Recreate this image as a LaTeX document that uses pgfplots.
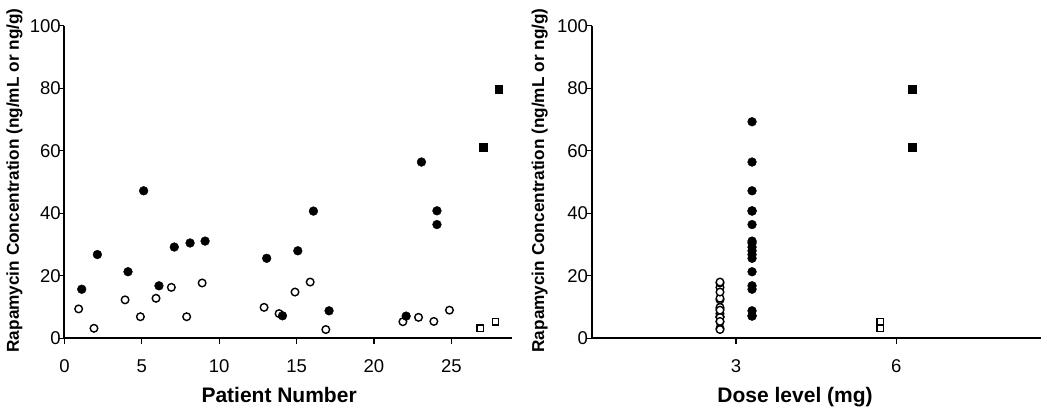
\documentclass[border=0pt]{standalone}
\usepackage{pgfplots}
\pgfplotsset{compat=1.18}
\usepackage{fontspec}
\setmainfont{Liberation Sans}
\begin{document}
\begin{tikzpicture}
\useasboundingbox (0pt,0pt) rectangle (1050pt,411pt);
\pgfplotsset{
 myax/.style={
  scale only axis, height=312.5pt,
  axis lines=left, axis line style={-, line width=1.8pt},
  ymin=0, ymax=100, ytick={0,20,...,100},
  tick align=outside, major tick length=5.5pt, tick style={line width=1.3pt, black},
  /pgf/number format/assume math mode=true,
  tick label style={font=\fontsize{18.5}{18.5}\selectfont},
  yticklabel style={inner sep=0pt, xshift=2pt},
  xticklabel style={inner sep=0pt, yshift=-16pt},
  xlabel style={font=\bfseries\fontsize{21}{21}\selectfont, anchor=base},
  ylabel style={font=\bfseries\fontsize{17.2}{17.2}\selectfont, anchor=base},
  clip=false,
 },
 oc/.style={only marks, mark=*, mark options={draw=black, fill=white, line width=1.4pt}, mark size=3.8pt},
 fc/.style={only marks, mark=*, mark options={draw=black, fill=black}, mark size=4.4pt},
 fs/.style={only marks, mark=square*, mark options={draw=black, fill=black}, mark size=3.8pt},
 os/.style={only marks, mark=square*, mark options={draw=black, fill=white, line width=1.3pt}, mark size=3.3pt},
}
\begin{axis}[myax, at={(64.4pt,72.7pt)}, anchor=south west, width=447.3pt,
  xmin=0, xmax=28.9, xtick={0,5,...,25},
  xlabel={Patient Number}, ylabel={Rapamycin Concentration (ng/mL or ng/g)},
  xlabel style={at={(axis description cs:0.48,-0.204)}},
  ylabel style={at={(axis description cs:-0.102,0.505)}}]
\addplot[oc] coordinates {(0.92,9.4)(1.91,3.2)(3.92,12.3)(4.91,6.9)(5.92,12.8)(6.91,16.3)(7.9,6.9)(8.9,17.7)(12.9,9.9)(13.87,7.9)(14.9,14.8)(15.88,18.0)(16.89,2.8)(21.87,5.3)(22.88,6.7)(23.87,5.4)(24.88,9.0)};
\addplot[fc] coordinates {(1.12,15.7)(2.13,26.8)(4.11,21.3)(5.12,47.2)(6.11,16.8)(7.1,29.2)(8.12,30.5)(9.09,31.1)(13.07,25.6)(14.09,7.2)(15.08,28.0)(16.09,40.7)(17.1,8.8)(22.08,7.1)(23.07,56.4)(24.07,40.8)(24.07,36.4)};
\addplot[fs] coordinates {(27.04,61.2)(28.05,79.7)};
\addplot[os] coordinates {(26.87,3.2)(27.85,5.3)};
\end{axis}
\begin{axis}[myax, at={(591.7pt,72.7pt)}, anchor=south west, width=449pt,
  xmin=0.3, xmax=8.7, xtick={3,6},
  xlabel={Dose level (mg)}, ylabel={Rapamycin Concentration (ng/mL or ng/g)},
  xlabel style={at={(axis description cs:0.453,-0.204)}},
  ylabel style={at={(axis description cs:-0.106,0.505)}}]
\addplot[oc] coordinates {(2.7,9.4)(2.7,3.2)(2.7,12.3)(2.7,6.9)(2.7,12.8)(2.7,16.3)(2.7,6.9)(2.7,17.7)(2.7,9.9)(2.7,7.9)(2.7,14.8)(2.7,18.0)(2.7,2.8)(2.7,5.3)(2.7,6.7)(2.7,5.4)(2.7,9.0)};
\addplot[fc] coordinates {(3.3,15.7)(3.3,26.8)(3.3,21.3)(3.3,47.2)(3.3,16.8)(3.3,29.2)(3.3,30.5)(3.3,31.1)(3.3,25.6)(3.3,7.2)(3.3,28.0)(3.3,40.7)(3.3,8.8)(3.3,7.1)(3.3,56.4)(3.3,40.8)(3.3,36.4)(3.3,69.3)};
\addplot[fs] coordinates {(6.3,61.2)(6.3,79.7)};
\addplot[os] coordinates {(5.7,3.2)(5.7,5.3)};
\end{axis}
\end{tikzpicture}
\end{document}
